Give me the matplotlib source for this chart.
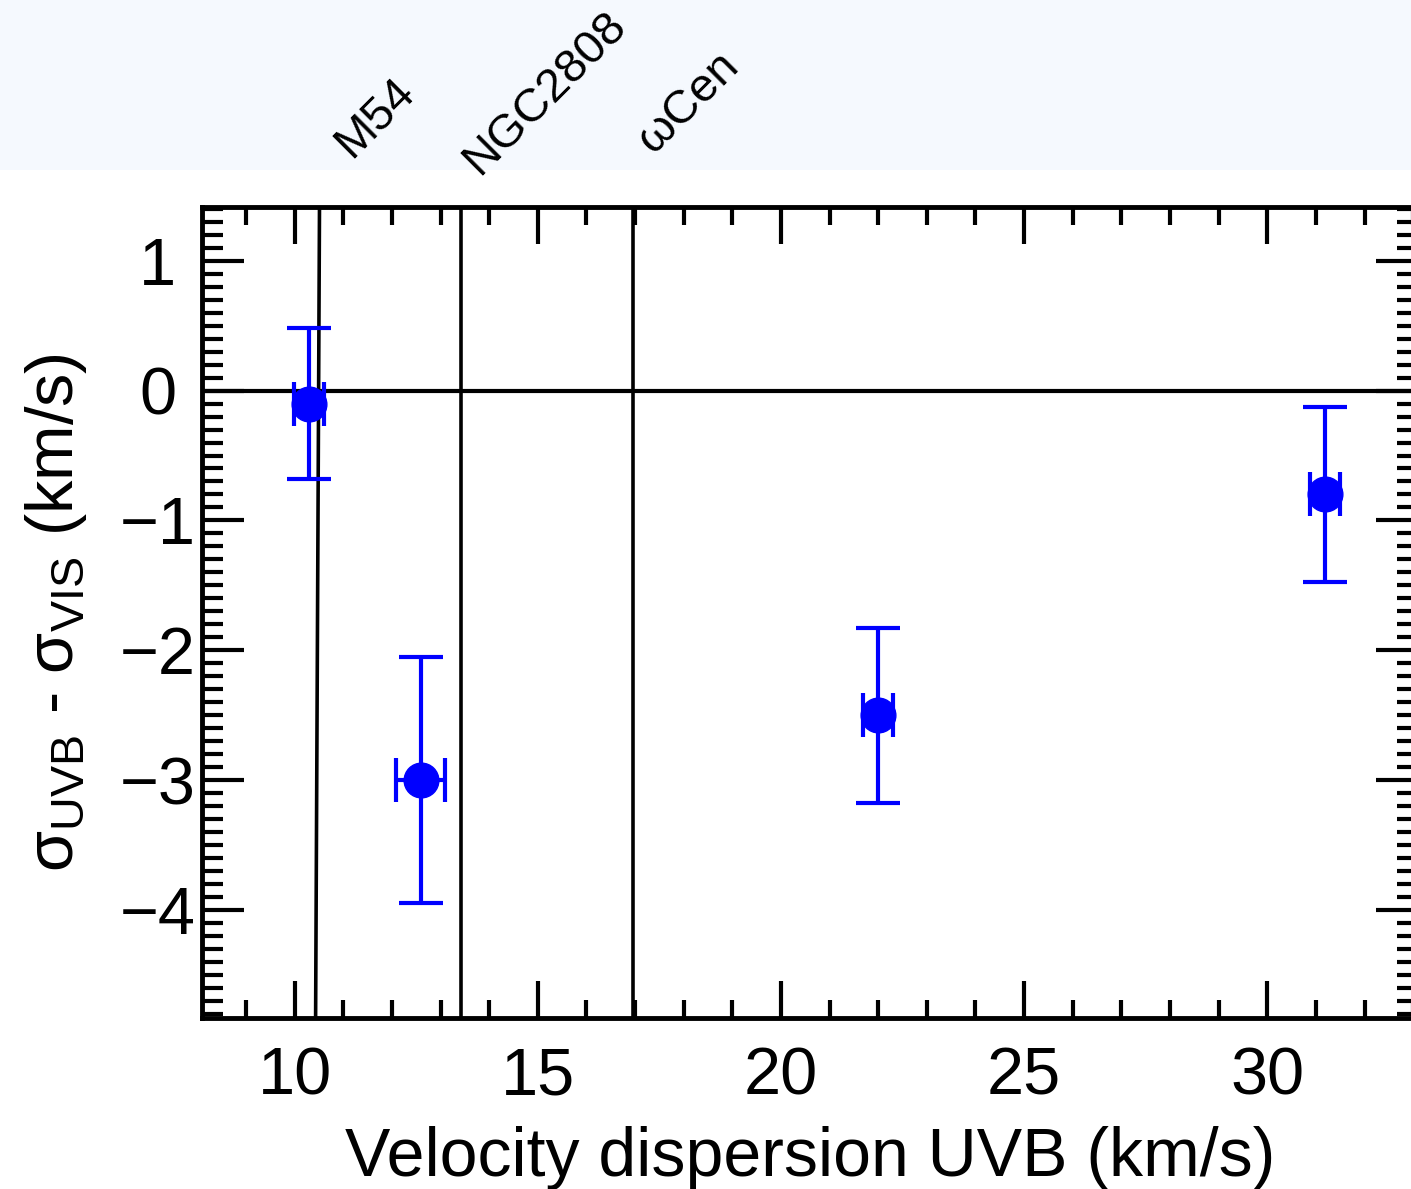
import numpy as np
import matplotlib
matplotlib.use("Agg")
import matplotlib.pyplot as plt
from matplotlib.ticker import MultipleLocator
from matplotlib.patches import Rectangle

plt.rcParams["font.family"] = ["Liberation Sans", "DejaVu Sans"]
plt.rcParams["mathtext.fontset"] = "custom"
plt.rcParams["mathtext.rm"] = "Liberation Sans"

# measured points: sigma_UVB vs sigma_UVB - sigma_VIS
sigma_uvb = np.array([10.29, 12.59, 22.0, 31.19])
sigma_uvb_err = np.array([0.31, 0.51, 0.31, 0.31])
delta_sigma = np.array([-0.10, -3.00, -2.50, -0.80])
delta_sigma_err = np.array([0.58, 0.945, 0.675, 0.675])

# reference clusters (vertical lines); M54 line is slightly slanted in the original
cluster_names = ["M54", "NGC2808", r"ωCen"]
cluster_x_top = np.array([10.51, 13.43, 16.95])
cluster_x_bottom = np.array([10.43, 13.43, 16.95])

xlim = (8.1, 33.1)
ylim = (-4.834, 1.416)

# label placement (offset points from the top of each line)
label_offsets = [(23, 34), (12.5, 22), (14.5, 37)]

fig = plt.figure(figsize=(14.11, 11.89), dpi=100)
fig.patches.append(Rectangle((0, 1 - 170 / 1189), 1, 170 / 1189, transform=fig.transFigure,
                             facecolor="#F5F9FE", edgecolor="none", zorder=-10))

ax = fig.add_axes([202.3 / 1411, 1 - 1018.3 / 1189, (1418 - 202.3) / 1411, (1018.3 - 206.7) / 1189])
ax.set_xlim(*xlim)
ax.set_ylim(*ylim)

ax.axhline(0, color="black", lw=3, zorder=2)
for xt, xb in zip(cluster_x_top, cluster_x_bottom):
    ax.plot([xb, xt], list(ylim), color="black", lw=2.6, zorder=2)

for name, xt, (dx, dy) in zip(cluster_names, cluster_x_top, label_offsets):
    ax.annotate(name, xy=(xt, 1), xycoords=("data", "axes fraction"),
                xytext=(dx, dy), textcoords="offset points", rotation=45,
                rotation_mode="anchor", ha="left", va="baseline", fontsize=34,
                annotation_clip=False)

ax.errorbar(sigma_uvb, delta_sigma, xerr=sigma_uvb_err, yerr=delta_sigma_err, fmt="o",
            color="blue", ms=25, capsize=15.5, elinewidth=3, capthick=3, zorder=3)

ax.xaxis.set_major_locator(MultipleLocator(5))
ax.xaxis.set_minor_locator(MultipleLocator(1))
ax.yaxis.set_major_locator(MultipleLocator(1))
ax.yaxis.set_minor_locator(MultipleLocator(0.1))

ax.tick_params(which="both", direction="in", top=True, right=True, width=3, labelsize=48)
ax.tick_params(axis="x", which="major", length=26.5, pad=20)
ax.tick_params(axis="x", which="minor", length=13)
ax.tick_params(axis="y", which="major", length=30, pad=32)
ax.tick_params(axis="y", which="minor", length=15)
for lbl in ax.get_yticklabels():
    lbl.set_horizontalalignment("center")
for sp in ax.spines.values():
    sp.set_linewidth(3.5)

ax.set_xlabel("Velocity dispersion UVB (km/s)", fontsize=49, labelpad=13)
ax.set_ylabel(r"σ$_{\mathregular{UVB}}$ - σ$_{\mathregular{VIS}}$ (km/s)", fontsize=48, labelpad=22)

fig.savefig("out.png", dpi=100)
